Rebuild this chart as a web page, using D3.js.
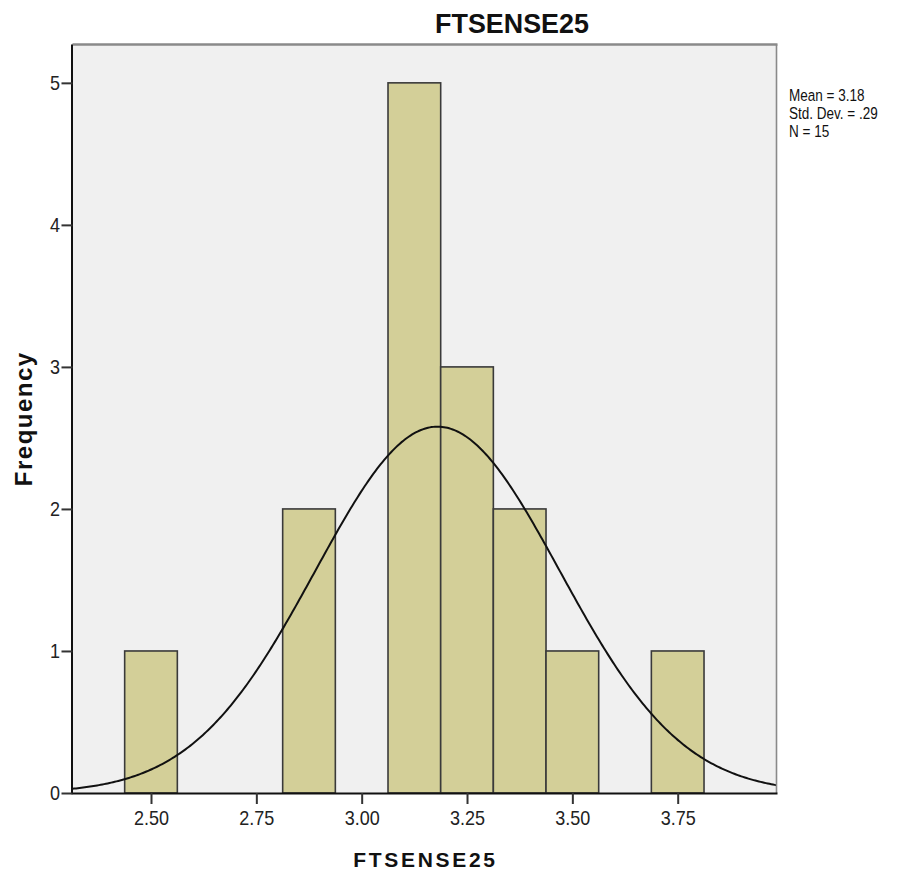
<!DOCTYPE html>
<html>
<head>
<meta charset="utf-8">
<script src="https://cdn.jsdelivr.net/npm/d3@7"></script>
<style>
  html, body { margin: 0; padding: 0; background: #ffffff; }
  svg { display: block; }
  text { font-family: "Liberation Sans", Arial, sans-serif; }
</style>
</head>
<body>
<svg id="chart" width="910" height="875"></svg>
<script>
// ---- data ----
const binCenters = [2.50, 2.875, 3.125, 3.25, 3.375, 3.50, 3.75];
const counts     = [1, 2, 5, 3, 2, 1, 1];
const binWidth   = 0.125;
const xTicks     = [2.50, 2.75, 3.00, 3.25, 3.50, 3.75];
const yTicks     = [0, 1, 2, 3, 4, 5];
const statMean   = 3.18;
const statSD     = 0.29;
const statN      = 15;
const legendLines = ["Mean = 3.18", "Std. Dev. = .29", "N = 15"];
const titleText  = "FTSENSE25";
const xLabelText = "FTSENSE25";
const yLabelText = "Frequency";

// ---- layout ----
const L = 72.5, R = 776.5, T = 44.5, B = 793;
const svg = d3.select("#chart");

const x = d3.scaleLinear().domain([2.3137, 3.9845]).range([L, R]);
const y = d3.scaleLinear().domain([0, 5.27]).range([B, T]);

// plot background
svg.append("rect")
  .attr("x", L).attr("y", T).attr("width", R - L).attr("height", B - T)
  .attr("fill", "#f0f0f0");

// bars
svg.append("g").selectAll("rect")
  .data(binCenters.map((c, i) => ({c, n: counts[i]})))
  .join("rect")
  .attr("x", d => x(d.c - binWidth / 2))
  .attr("y", d => y(d.n))
  .attr("width", d => x(d.c + binWidth / 2) - x(d.c - binWidth / 2))
  .attr("height", d => y(0) - y(d.n))
  .attr("fill", "#d3cf98")
  .attr("stroke", "#3a3a3a")
  .attr("stroke-width", 1.6);

// normal curve (fitted from mean / sd / N)
const dens = v => statN * binWidth / (statSD * Math.sqrt(2 * Math.PI)) *
  Math.exp(-0.5 * Math.pow((v - statMean) / statSD, 2));
const xs = d3.range(0, 401).map(i => x.domain()[0] + (x.domain()[1] - x.domain()[0]) * i / 400);
svg.append("path")
  .datum(xs)
  .attr("d", d3.line().x(v => x(v)).y(v => y(dens(v))))
  .attr("fill", "none")
  .attr("stroke", "#111")
  .attr("stroke-width", 2);

// top & right frame (grey)
svg.append("line").attr("x1", L).attr("x2", R + 1).attr("y1", T).attr("y2", T)
  .attr("stroke", "#8a8a8a").attr("stroke-width", 2.5);
svg.append("line").attr("x1", R).attr("x2", R).attr("y1", T).attr("y2", B)
  .attr("stroke", "#8a8a8a").attr("stroke-width", 1.6);

// axes
const xAxis = d3.axisBottom(x).tickValues(xTicks).tickFormat(d3.format(".2f"))
  .tickSize(11).tickSizeOuter(0).tickPadding(7);
const gx = svg.append("g").attr("transform", `translate(0,${B})`).call(xAxis);
gx.select(".domain").attr("stroke", "#111").attr("stroke-width", 2)
  .attr("d", `M${L - 1},0.5H${R + 1}`);
gx.selectAll(".tick line").attr("stroke", "#333").attr("stroke-width", 2);
gx.selectAll(".tick text").attr("font-size", 20).attr("fill", "#222")
  .attr("font-family", "'Liberation Sans', Arial, sans-serif")
  .attr("transform", "scale(0.9,1)");

const yAxis = d3.axisLeft(y).tickValues(yTicks).tickFormat(d3.format("d"))
  .tickSize(11).tickSizeOuter(0).tickPadding(3);
const gy = svg.append("g").attr("transform", `translate(${L},0)`).call(yAxis);
gy.select(".domain").attr("stroke", "#111").attr("stroke-width", 2)
  .attr("d", `M-0.5,${T}V${B}`);
gy.selectAll(".tick line").attr("stroke", "#333").attr("stroke-width", 2);
gy.selectAll(".tick text").attr("font-size", 20).attr("fill", "#222")
  .attr("font-family", "'Liberation Sans', Arial, sans-serif")
  .attr("transform", "scale(0.9,1)");

// title
svg.append("text")
  .attr("transform", "translate(512,32.5) scale(0.96,1)")
  .attr("text-anchor", "middle")
  .attr("font-size", 28).attr("font-weight", "bold").attr("fill", "#111")
  .text(titleText);

// x label
svg.append("text")
  .attr("x", (L + R) / 2 + 1).attr("y", 867)
  .attr("text-anchor", "middle")
  .attr("font-size", 21).attr("font-weight", "bold").attr("fill", "#111")
  .attr("letter-spacing", 2.7)
  .text(xLabelText);

// y label
svg.append("text")
  .attr("transform", `translate(32,${(T + B) / 2}) rotate(-90)`)
  .attr("text-anchor", "middle")
  .attr("font-size", 24).attr("font-weight", "bold").attr("fill", "#111")
  .attr("letter-spacing", 1.5)
  .text(yLabelText);

// stats legend
svg.append("g").selectAll("text")
  .data(legendLines)
  .join("text")
  .attr("transform", (d, i) => `translate(789,${101 + i * 18}) scale(0.82,1)`)
  .attr("font-size", 16.5).attr("fill", "#111")
  .text(d => d);
</script>
</body>
</html>
